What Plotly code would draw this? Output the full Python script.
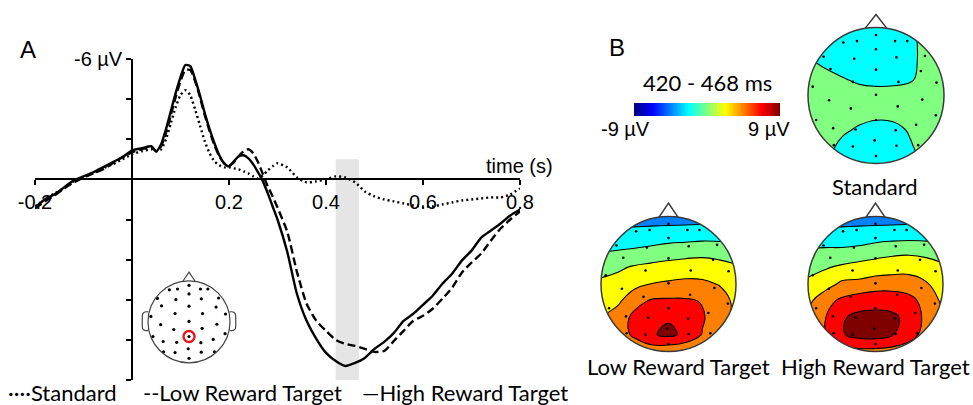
import numpy as np
import plotly.graph_objects as go

W, H = 973, 405

# ---------------- ERP waveforms (µV, negative plotted upward) ----------------
time_s = [-0.20, -0.18, -0.16, -0.14, -0.12, -0.10, -0.08, -0.06, -0.04, -0.02, 0.00, 0.02, 0.04,
          0.05, 0.06, 0.07, 0.08, 0.09, 0.10, 0.11, 0.12, 0.13, 0.14, 0.15, 0.16, 0.17, 0.18, 0.19,
          0.20, 0.21, 0.22, 0.23, 0.24, 0.25, 0.26, 0.27, 0.28, 0.29, 0.30,
          0.32, 0.34, 0.36, 0.38, 0.40, 0.42, 0.44, 0.46, 0.48, 0.50, 0.52, 0.54, 0.56, 0.58,
          0.60, 0.62, 0.64, 0.66, 0.68, 0.70, 0.72, 0.74, 0.76, 0.78, 0.80]

standard_uv = [1.35, 1.0, 0.7, 0.45, 0.1, -0.1, -0.3, -0.55, -0.75, -1.0, -1.25, -1.4, -1.5,
               -1.4, -1.5, -2.0, -2.8, -3.6, -4.2, -4.45, -4.2, -3.5, -2.7, -1.9, -1.3, -0.9, -0.7, -0.6,
               -0.6, -0.55, -0.5, -0.4, -0.3, -0.15, -0.05, -0.2, -0.45, -0.65, -0.8,
               -0.6, -0.1, 0.15, 0.1, 0.0, -0.15, -0.1, 0.15, 0.6, 0.85, 1.0, 1.1, 1.2, 1.3,
               1.35, 1.35, 1.25, 1.15, 1.05, 1.0, 0.95, 0.9, 0.9, 0.75, 0.45]

low_reward_uv = [1.45, 1.1, 0.8, 0.45, 0.15, -0.1, -0.3, -0.5, -0.8, -1.1, -1.35, -1.5, -1.6,
                 -1.4, -1.65, -2.3, -3.2, -4.1, -4.9, -5.45, -5.45, -4.9, -4.1, -3.2, -2.4, -1.7, -1.15, -0.8,
                 -0.7, -0.85, -1.15, -1.4, -1.5, -1.3, -0.85, -0.25, 0.35, 0.85, 1.4,
                 2.6, 4.6, 6.2, 7.05, 7.55, 8.0, 8.2, 8.3, 8.45, 8.6, 8.55, 8.05, 7.55, 7.05,
                 6.8, 6.45, 5.95, 5.4, 4.65, 4.15, 3.7, 3.05, 2.45, 2.0, 1.6]

high_reward_uv = [1.4, 1.0, 0.75, 0.4, 0.05, -0.15, -0.35, -0.6, -0.85, -1.1, -1.45, -1.55, -1.65,
                  -1.4, -1.75, -2.5, -3.4, -4.3, -5.1, -5.7, -5.65, -5.0, -4.2, -3.3, -2.5, -1.8, -1.2, -0.8,
                  -0.65, -0.9, -1.15, -1.2, -1.05, -0.75, -0.35, 0.1, 0.7, 1.35, 2.0,
                  3.6, 5.7, 7.05, 7.95, 8.65, 9.05, 9.3, 9.15, 8.9, 8.45, 8.1, 7.65, 7.05, 6.7,
                  6.25, 5.8, 5.2, 4.7, 4.05, 3.55, 2.9, 2.55, 2.2, 1.8, 1.5]

x_tick_vals = [-0.2, 0.0, 0.2, 0.4, 0.6, 0.8]
x_tick_text = ["-0.2", "", "0.2", "0.4", "0.6", "0.8"]
y_tick_vals = [-6, -4, -2, 0, 2, 4, 6, 8, 10]
y_tick_text = ["-6 \u00b5V", "", "", "", "", "", "", "", ""]

window_ms = [420, 468]          # topography window, also shaded on the waveforms
color_range_uv = [-9, 9]

# ---------------- scalp maps: 9 x 9 grids, rows listed front (top) to back ----------------
grid_pos = [-1.0, -0.75, -0.5, -0.25, 0.0, 0.25, 0.5, 0.75, 1.0]

standard_map = [
    [-1.6, -1.6, -1.6, -1.6, -1.6, -1.5, -1.2, -0.6, -0.5],
    [-1.7, -1.7, -1.7, -1.7, -1.7, -1.6, -1.3, -0.6, -0.5],
    [-0.9, -1.2, -1.5, -1.6, -1.6, -1.5, -1.3, -0.6, -0.5],
    [-0.5, -0.7, -0.95, -1.2, -1.3, -1.3, -1.15, -0.6, -0.5],
    [-0.3, -0.4, -0.5, -0.6, -0.65, -0.6, -0.5, -0.4, -0.3],
    [-0.3, -0.4, -0.55, -0.7, -0.75, -0.7, -0.6, -0.45, -0.35],
    [-0.4, -0.6, -0.85, -1.1, -1.3, -1.25, -0.9, -0.5, -0.4],
    [-0.5, -0.7, -1.2, -1.5, -1.6, -1.5, -1.1, -0.6, -0.5],
    [-0.6, -0.9, -1.4, -1.7, -1.8, -1.7, -1.4, -0.8, -0.6],
]

low_reward_map = [
    [-3.8, -3.8, -3.8, -3.8, -3.8, -3.8, -3.8, -3.8, -3.8],
    [-2.7, -2.6, -2.5, -2.4, -2.3, -2.2, -2.1, -2.1, -2.1],
    [-1.2, -1.0, -0.8, -0.5, -0.1, 0.1, 0.3, 0.2, 0.0],
    [0.3, 0.7, 1.2, 1.5, 1.7, 1.9, 1.9, 1.6, 1.2],
    [1.4, 1.7, 2.4, 3.05, 3.3, 3.5, 3.4, 2.9, 1.8],
    [2.1, 2.6, 4.4, 5.2, 5.3, 5.25, 4.9, 4.0, 2.5],
    [2.9, 4.0, 5.5, 6.2, 6.8, 6.0, 5.2, 4.0, 2.6],
    [3.1, 4.0, 5.4, 6.8, 7.4, 6.6, 4.9, 3.9, 3.1],
    [3.1, 3.2, 3.5, 3.8, 3.5, 3.2, 3.3, 3.1, 3.1],
]

high_reward_map = [
    [-3.8, -3.8, -3.8, -3.8, -3.8, -3.8, -3.8, -3.8, -3.8],
    [-2.7, -2.6, -2.5, -2.4, -2.3, -2.2, -2.1, -2.1, -2.1],
    [-0.8, -0.7, -0.7, -0.5, 0.05, 0.4, 0.5, 0.3, 0.1],
    [0.4, 0.8, 1.3, 1.7, 1.9, 2.1, 2.2, 1.9, 1.3],
    [1.4, 2.1, 3.4, 3.5, 4.0, 4.1, 4.0, 3.2, 1.9],
    [2.5, 4.3, 5.4, 6.1, 6.3, 6.2, 5.6, 4.3, 2.6],
    [3.2, 4.9, 6.8, 7.5, 7.6, 7.4, 6.4, 4.5, 3.2],
    [3.1, 4.7, 6.8, 7.7, 7.8, 7.1, 5.9, 4.2, 3.1],
    [3.1, 3.5, 4.0, 4.4, 4.4, 4.2, 3.8, 3.1, 3.1],
]

# electrode montage in head coordinates (unit radius, +y = nose)
elec_x = [0.00, -0.28, 0.28, -0.48, 0.46, -0.77, -0.32, 0.00, 0.30, 0.72, -0.67, 0.00, 0.66,
          -0.34, 0.33, -0.93, 0.89, -0.69, 0.00, 0.68, -0.37, 0.32, -0.88, 0.88, -0.63, 0.00,
          0.59, -0.30, 0.29, -0.34, -0.02, 0.30, 0.00, 0.62, -0.62]
elec_y = [0.89, 0.80, 0.80, 0.78, 0.80, 0.57, 0.54, 0.68, 0.56, 0.58, 0.39, 0.38, 0.36,
          0.20, 0.20, 0.13, 0.19, -0.07, 0.01, -0.06, -0.19, -0.16, -0.36, -0.29, -0.48, -0.36,
          -0.43, -0.50, -0.51, -0.75, -0.66, -0.74, -0.89, -0.73, -0.73]
marked_electrode = 25

JET = [[0.0, "rgb(0,0,128)"], [0.125, "rgb(0,0,255)"], [0.375, "rgb(0,255,255)"],
       [0.625, "rgb(255,255,0)"], [0.875, "rgb(255,0,0)"], [1.0, "rgb(128,0,0)"]]

FONT_AX = "Liberation Sans, Arial, sans-serif"
FONT_TX = "Lato, Open Sans, sans-serif"


def px(x):
    return x / W


def py(y):
    return 1 - y / H


fig = go.Figure()

# ---------------- panel A: waveforms ----------------
x_dom = [px(35), px(520)]
y_dom = [py(380), py(59)]
x_rng = [-0.2, 0.8]
y_rng = [10, -6]
x_axis_pos = y_dom[0] + (0 - y_rng[0]) / (y_rng[1] - y_rng[0]) * (y_dom[1] - y_dom[0])
y_axis_pos = x_dom[0] + (0 - x_rng[0]) / (x_rng[1] - x_rng[0]) * (x_dom[1] - x_dom[0])

series = [
    (standard_uv, dict(color="black", width=2.4, dash="2px,3px")),
    (low_reward_uv, dict(color="black", width=2.4, dash="8px,4px")),
    (high_reward_uv, dict(color="black", width=2.4)),
]
for vals, line in series:
    fig.add_trace(go.Scatter(x=time_s, y=vals, mode="lines", line=dict(shape="spline", smoothing=0.6, **line),
                             hoverinfo="skip", xaxis="x", yaxis="y"))

fig.add_shape(type="rect", xref="x", yref="y", x0=window_ms[0] / 1000, x1=window_ms[1] / 1000,
              y0=-1, y1=y_rng[0], fillcolor="#e5e5e5", line_width=0, layer="below")

# ---------------- scalp map helper ----------------
def ring_path(r_out=1.12, n=160):
    ang = np.linspace(0, 2 * np.pi, n, endpoint=False)
    sq = f"M {-r_out},{-r_out} L {r_out},{-r_out} L {r_out},{r_out} L {-r_out},{r_out} Z"
    circ = "M " + " L ".join(f"{np.cos(a):.4f},{np.sin(a):.4f}" for a in ang) + " Z"
    return sq + " " + circ


layout_axes = {}


def head_axes(n, cx, cy, r_px, half=1.3):
    hp = half * r_px
    layout_axes[f"xaxis{n}"] = dict(domain=[px(cx - hp), px(cx + hp)], range=[-half, half], visible=False,
                                     anchor=f"y{n}", fixedrange=True, automargin=False)
    layout_axes[f"yaxis{n}"] = dict(domain=[py(cy + hp), py(cy - hp)], range=[-half, half], visible=False,
                                     anchor=f"x{n}", fixedrange=True, automargin=False)


def head_outline(n, nose_half, nose_top, outline="#3a3a3a", width=1.5):
    xr, yr = f"x{n}", f"y{n}"
    fig.add_shape(type="path", xref=xr, yref=yr,
                  path=f"M {-nose_half},{np.sqrt(1 - nose_half ** 2):.4f} L 0,{nose_top} L {nose_half},{np.sqrt(1 - nose_half ** 2):.4f}",
                  line=dict(color=outline, width=width))
    fig.add_shape(type="circle", xref=xr, yref=yr, x0=-1, x1=1, y0=-1, y1=1,
                  line=dict(color=outline, width=width))


def scalp_map(n, rows, cx, cy, r_px, nose_half, nose_top):
    head_axes(n, cx, cy, r_px)
    z = rows[::-1]
    fig.add_trace(go.Contour(x=grid_pos, y=grid_pos, z=z, xaxis=f"x{n}", yaxis=f"y{n}",
                             autocontour=False,
                             contours=dict(start=-7, end=7, size=2, coloring="fill", showlines=True),
                             line=dict(color="black", width=1.1, smoothing=1.3),
                             colorscale=JET, showscale=False, hoverinfo="skip"))
    fig.add_trace(go.Scatter(x=elec_x, y=elec_y, mode="markers", xaxis=f"x{n}", yaxis=f"y{n}",
                             marker=dict(size=2.6, color="black"), hoverinfo="skip"))
    fig.add_shape(type="path", xref=f"x{n}", yref=f"y{n}", path=ring_path(), fillrule="evenodd",
                  fillcolor="white", line_width=0, layer="above")
    head_outline(n, nose_half, nose_top)


scalp_map(2, standard_map, 876, 95.5, 68, 0.16, 1.19)
scalp_map(3, low_reward_map, 668.5, 284, 67.5, 0.14, 1.2)
scalp_map(4, high_reward_map, 875.5, 284, 67.5, 0.14, 1.2)

# ---------------- inset: electrode layout ----------------
head_axes(5, 189, 321.8, 41)
fig.add_trace(go.Scatter(x=elec_x, y=elec_y, mode="markers", xaxis="x5", yaxis="y5",
                         marker=dict(size=3.2, color="black"), hoverinfo="skip"))
fig.add_trace(go.Scatter(x=[elec_x[marked_electrode]], y=[elec_y[marked_electrode]], mode="markers",
                         xaxis="x5", yaxis="y5",
                         marker=dict(size=11, color="rgba(0,0,0,0)", line=dict(color="#e8191e", width=2.4)),
                         hoverinfo="skip"))
head_outline(5, 0.15, 1.21, outline="#444444", width=1.2)
for s in (-1, 1):
    fig.add_shape(type="path", xref="x5", yref="y5",
                  path=(f"M {s * 0.99},0.24 Q {s * 1.14},0.27 {s * 1.14},0.13 L {s * 1.14},-0.12 "
                        f"Q {s * 1.14},-0.24 {s * 0.99},-0.21"),
                  line=dict(color="#444444", width=1.2))

# ---------------- colour bar ----------------
bar_vals = np.linspace(color_range_uv[0], color_range_uv[1], 256)
fig.add_trace(go.Heatmap(x=bar_vals, y=[0], z=[bar_vals], colorscale=JET,
                         zmin=color_range_uv[0], zmax=color_range_uv[1], showscale=False,
                         xaxis="x6", yaxis="y6", hoverinfo="skip"))
layout_axes["xaxis6"] = dict(domain=[px(634), px(780)], visible=False, anchor="y6", fixedrange=True,
                             automargin=False)
layout_axes["yaxis6"] = dict(domain=[py(116), py(103)], visible=False, anchor="x6", fixedrange=True,
                             automargin=False)

# ---------------- text ----------------
def label(text, x, y, size, family=FONT_TX, xanchor="center"):
    return dict(text=text, x=px(x), y=py(y), xref="paper", yref="paper", showarrow=False,
                xanchor=xanchor, yanchor="middle", font=dict(family=family, size=size, color="black"))


annotations = [
    label("A", 28, 49, 24, FONT_AX),
    label("B", 617, 48, 24, FONT_AX),
    label("time (s)", 519, 166, 20, FONT_AX),
    label(f"{window_ms[0]} - {window_ms[1]} ms", 707, 82, 22),
    label(f"{color_range_uv[0]} \u00b5V", 625, 129, 20, FONT_AX),
    label(f"{color_range_uv[1]} \u00b5V", 769, 129, 20, FONT_AX),
    label("Standard", 875, 186, 22),
    label("Low Reward Target", 678, 366, 22),
    label("High Reward Target", 875, 366, 22),
    label("\u00b7\u00b7\u00b7\u00b7Standard", 6, 392, 22, xanchor="left"),
    label("--Low Reward Target", 141, 392, 22, xanchor="left"),
    label("\u2014High Reward Target", 360, 392, 22, xanchor="left"),
]

fig.update_layout(
    width=W, height=H, margin=dict(l=0, r=0, t=0, b=0, autoexpand=False),
    paper_bgcolor="white", plot_bgcolor="rgba(0,0,0,0)", showlegend=False,
    xaxis=dict(domain=x_dom, range=x_rng, anchor="free", position=x_axis_pos, automargin=False,
               showline=True, linecolor="black", linewidth=1.6, ticks="outside", ticklen=5,
               tickwidth=1.6, tickcolor="black", tickvals=x_tick_vals, ticktext=x_tick_text,
               tickfont=dict(family=FONT_AX, size=20, color="black"), showgrid=False, zeroline=False,
               fixedrange=True),
    yaxis=dict(domain=y_dom, range=y_rng, anchor="free", position=y_axis_pos, automargin=False,
               showline=True, linecolor="black", linewidth=1.6, ticks="outside", ticklen=5,
               tickwidth=1.6, tickcolor="black", tickvals=y_tick_vals, ticktext=y_tick_text,
               tickfont=dict(family=FONT_AX, size=20, color="black"), showgrid=False, zeroline=False,
               fixedrange=True),
    annotations=annotations,
    **layout_axes,
)

fig.write_html("out.html")
